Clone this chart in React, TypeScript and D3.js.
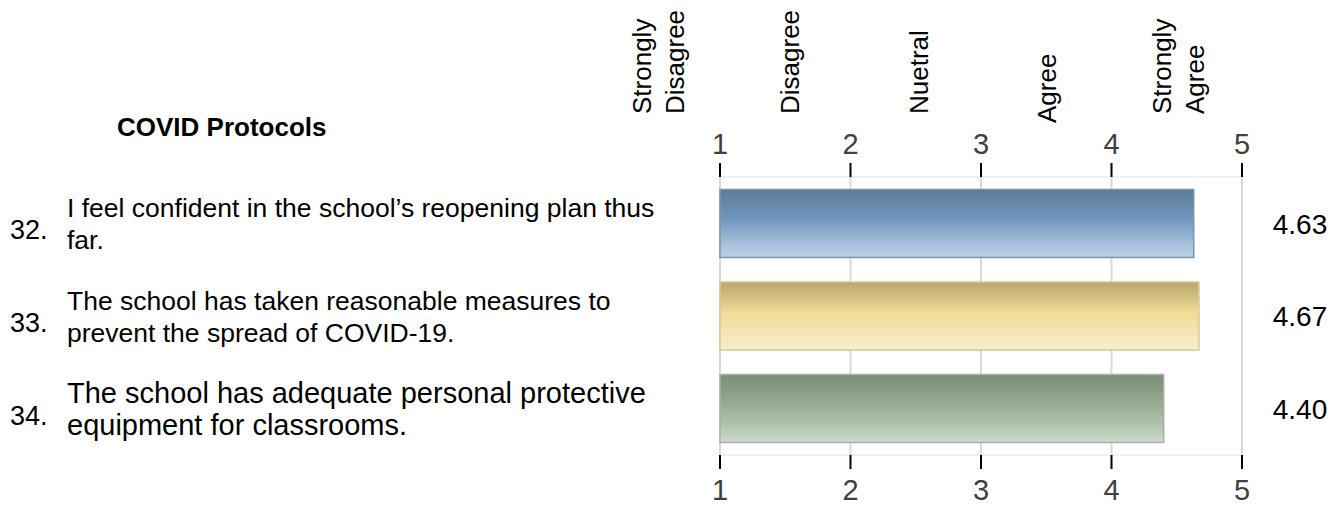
import React from "react";
import * as d3 from "d3";

const title = "COVID Protocols";
const questionNumbers = ["32.", "33.", "34."];
const questionLines = [
  ["I feel confident in the school\u2019s reopening plan thus", "far."],
  ["The school has taken reasonable measures to", "prevent the spread of COVID-19."],
  ["The school has adequate personal protective", "equipment for classrooms."],
];
const means = [4.63, 4.67, 4.4];
const scaleLabels = [["Strongly", "Disagree"], ["Disagree"], ["Nuetral"], ["Agree"], ["Strongly", "Agree"]];
const tickValues = [1, 2, 3, 4, 5];

// styles
const W = 1343;
const H = 508;
const barStyles = [
  { stops: ["#5b7a96", "#7298bf", "#a6c0dc", "#bcd0e7"], stroke: "#7f93a8" },
  { stops: ["#b8a671", "#f2db96", "#f5e7b8", "#f8eed0"], stroke: "#d6c893" },
  { stops: ["#7a8d77", "#98ad93", "#b7c8b3", "#d0dacd"], stroke: "#a9b1a6" },
];
const rowFont = [26.5, 26.5, 29];
const labelBottom = [114, 114, 114, 123, 114];
const labelShift = [1, 5, 3, 1, -1];
const FONT = "Liberation Sans, Arial, Helvetica, sans-serif";

export default function App() {
  const x = d3.scaleLinear().domain([1, 5]).range([720, 1242]);
  const y = d3
    .scaleBand<number>()
    .domain(means.map((_, i) => i))
    .range([177, 455])
    .paddingInner(0.265)
    .paddingOuter(0.135);
  const bw = y.bandwidth();
  const plotTop = 177;
  const plotBottom = 455;

  return (
    <svg
      width={W}
      height={H}
      style={{ position: "absolute", left: 0, top: 0, background: "#fff" }}
      fontFamily={FONT}
    >
      <defs>
        {barStyles.map((s, i) => (
          <linearGradient key={i} id={`g${i}`} x1="0" y1="0" x2="0" y2="1">
            <stop offset="0%" stopColor={s.stops[0]} />
            <stop offset="45%" stopColor={s.stops[1]} />
            <stop offset="80%" stopColor={s.stops[2]} />
            <stop offset="100%" stopColor={s.stops[3]} />
          </linearGradient>
        ))}
      </defs>

      {/* title */}
      <text x={117} y={136} fontSize={26} fontWeight="bold" fill="#000">
        {title}
      </text>

      {/* scale labels (rotated) */}
      {scaleLabels.map((lines, i) => {
        const cx = x(i + 0.5);
        return lines.map((ln, j) => {
          const bx =
            lines.length > 1
              ? cx + (j - 0.5) * 33 + 12 + labelShift[i]
              : cx + 9 + labelShift[i];
          const by = labelBottom[i];
          return (
            <text
              key={`${i}-${j}`}
              transform={`translate(${bx},${by}) rotate(-90)`}
              fontSize={26}
              fill="#000"
            >
              {ln}
            </text>
          );
        });
      })}

      {/* horizontal frame lines */}
      <line x1={x(1)} x2={x(5)} y1={plotTop} y2={plotTop} stroke="#ebebeb" strokeWidth={1.5} />
      <line x1={x(1)} x2={x(5)} y1={plotBottom} y2={plotBottom} stroke="#ebebeb" strokeWidth={1.5} />

      {/* gridlines */}
      {tickValues.map((t) => (
        <line key={`gl${t}`} x1={x(t)} x2={x(t)} y1={plotTop} y2={plotBottom} stroke="#d9d9d9" strokeWidth={2} />
      ))}

      {/* ticks */}
      {tickValues.map((t) => (
        <g key={`t${t}`}>
          <line x1={x(t)} x2={x(t)} y1={163} y2={177} stroke="#000" strokeWidth={2} />
          <line x1={x(t)} x2={x(t)} y1={455} y2={469} stroke="#000" strokeWidth={2} />
          <text x={x(t)} y={154} fontSize={29} textAnchor="middle" fill="#404040">
            {t}
          </text>
          <text x={x(t)} y={500} fontSize={29} textAnchor="middle" fill="#404040">
            {t}
          </text>
        </g>
      ))}

      {/* bars */}
      {means.map((v, i) => (
        <rect
          key={`b${i}`}
          x={x(1)}
          y={y(i)!}
          width={x(v) - x(1)}
          height={bw}
          fill={`url(#g${i})`}
          stroke={barStyles[i].stroke}
          strokeWidth={1.5}
        />
      ))}

      {/* values */}
      {means.map((v, i) => (
        <text
          key={`v${i}`}
          x={1300}
          y={y(i)! + bw / 2}
          dy="0.36em"
          fontSize={28}
          textAnchor="middle"
          fill="#000"
        >
          {v.toFixed(2)}
        </text>
      ))}

      {/* question labels */}
      {questionLines.map((lines, i) => {
        const cy = y(i)! + bw / 2;
        return (
          <g key={`q${i}`}>
            <text x={10} y={cy + 16} fontSize={27} fill="#000">
              {questionNumbers[i]}
            </text>
            {lines.map((ln, j) => (
              <text key={j} x={67} y={cy - 6 + j * 32} fontSize={rowFont[i]} fill="#000">
                {ln}
              </text>
            ))}
          </g>
        );
      })}
    </svg>
  );
}
